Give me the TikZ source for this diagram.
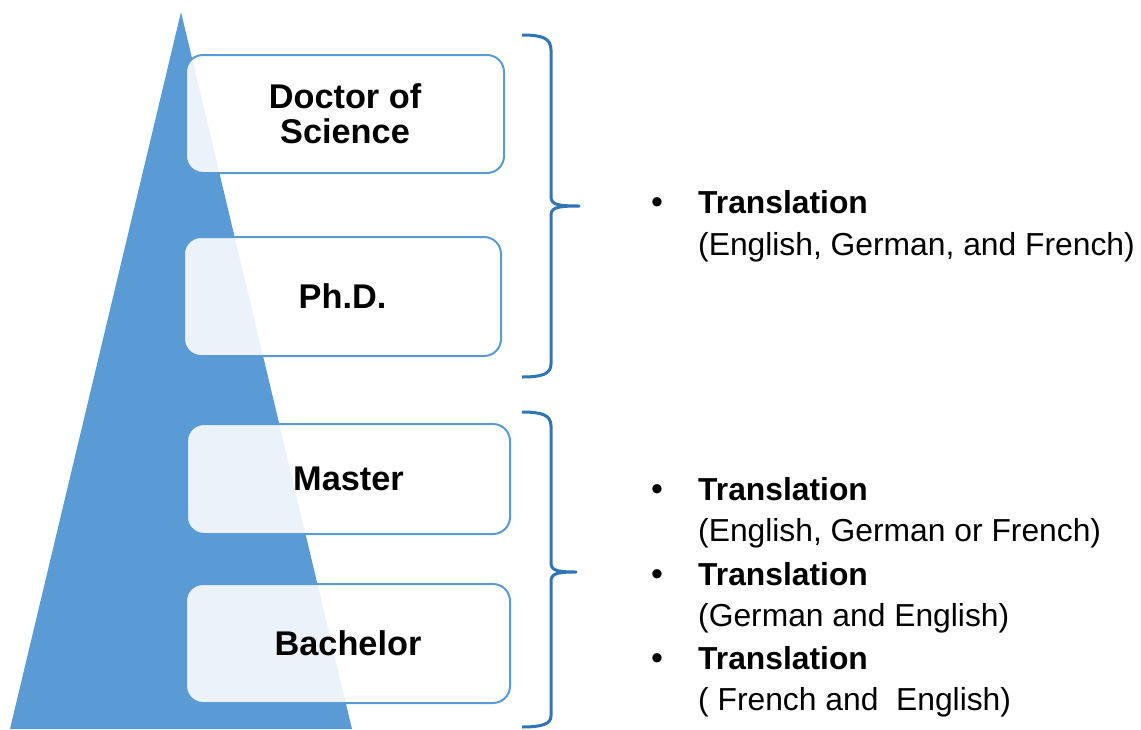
\documentclass[tikz,border=0pt]{standalone}
\usepackage{fontspec}
\setmainfont{Liberation Sans}
\definecolor{triblue}{HTML}{5B9BD5}
\definecolor{boxblue}{HTML}{5B9BD5}
\definecolor{bracecol}{HTML}{2E75B6}
\begin{document}
\begin{tikzpicture}[x=1pt,y=-1pt,
  box/.style={draw=boxblue, line width=2pt, rounded corners=17pt, fill=white, fill opacity=0.88, text opacity=1, draw opacity=1, inner sep=0pt, align=center, font=\fontsize{34.3}{35}\selectfont\bfseries},
  bracepath/.style={draw=bracecol, line width=3pt, line join=round},
  bul/.style={anchor=base, inner sep=0pt, font=\fontsize{34}{36}\selectfont},
  head/.style={anchor=base west, inner sep=0pt, font=\fontsize{31.8}{36}\selectfont\bfseries},
  sub/.style={anchor=base west, inner sep=0pt, font=\fontsize{31.8}{36}\selectfont}]
\useasboundingbox (0,0) rectangle (1141,729);
% pyramid
\fill[triblue] (181,12) -- (352,729) -- (10,729) -- cycle;
% level boxes
\node[box, minimum width=318pt, minimum height=118pt] (dsc) at (345,114) {Doctor of\\Science};
\node[box, minimum width=317pt, minimum height=119pt] (phd) at (342.5,296.5) {Ph.D.};
\node[box, minimum width=323pt, minimum height=110pt] (mas) at (348.5,479) {Master};
\node[box, minimum width=324pt, minimum height=119pt] (bac) at (348,643.5) {Bachelor};
% braces
\coordinate (b1top) at (522,35);
\coordinate (b1tip) at (579,206);
\coordinate (b1bot) at (522,377);
\draw[bracepath] (b1top) .. controls (542,35) and (551,38) .. (551,50) -- (551,196)
  .. controls (551,204) and (555,206) .. (b1tip)
  .. controls (555,206) and (551,208) .. (551,216) -- (551,364)
  .. controls (551,374) and (542,377) .. (b1bot);
\coordinate (b2top) at (522,412);
\coordinate (b2tip) at (576,572);
\coordinate (b2bot) at (522,727);
\draw[bracepath] (b2top) .. controls (542,412) and (551,415) .. (551,426) -- (551,562)
  .. controls (551,570) and (555,572) .. (b2tip)
  .. controls (555,572) and (551,574) .. (551,582) -- (551,716)
  .. controls (551,724) and (542,727) .. (b2bot);
% texts
\node[bul] (u1) at (657,213) {•};
\node[head] (h1) at (698,213) {Translation};
\node[sub] (s1) at (698,255) {(English, German, and French)};
\node[bul] (u2) at (657,500) {•};
\node[head] (h2) at (698,500) {Translation};
\node[sub] (s2) at (698,541) {(English, German or French)};
\node[bul] (u3) at (657,585) {•};
\node[head] (h3) at (698,585) {Translation};
\node[sub] (s3) at (698,626) {(German and English)};
\node[bul] (u4) at (657,669) {•};
\node[head] (h4) at (698,669) {Translation};
\node[sub] (s4) at (698,710) {( French and\ \ English)};
\end{tikzpicture}
\end{document}
